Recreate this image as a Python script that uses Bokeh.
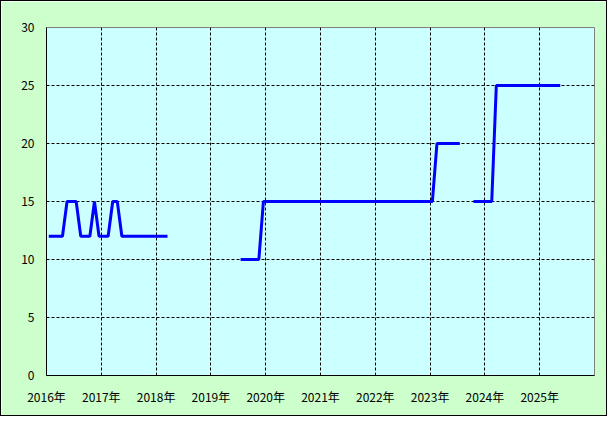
import math
from bokeh.plotting import figure
from bokeh.models import ColumnDataSource, FixedTicker, Range1d
from bokeh.embed import file_html
from bokeh.resources import INLINE

# Monthly values from 2016-01 to 2025-05 (None = no data)
start_year = 2016
values = [
    # 2016
    12, 12, 12, 12, 15, 15, 15, 12, 12, 12, 15, 12,
    # 2017
    12, 12, 15, 15, 12, 12, 12, 12, 12, 12, 12, 12,
    # 2018
    12, 12, 12, None, None, None, None, None, None, None, None, None,
    # 2019
    None, None, None, None, None, None, 10, 10, 10, 10, 10, 15,
    # 2020
    15, 15, 15, 15, 15, 15, 15, 15, 15, 15, 15, 15,
    # 2021
    15, 15, 15, 15, 15, 15, 15, 15, 15, 15, 15, 15,
    # 2022
    15, 15, 15, 15, 15, 15, 15, 15, 15, 15, 15, 15,
    # 2023
    15, 20, 20, 20, 20, 20, 20, None, None, 15, 15, 15,
    # 2024
    15, 15, 25, 25, 25, 25, 25, 25, 25, 25, 25, 25,
    # 2025
    25, 25, 25, 25, 25,
]
year_ticks = [2016, 2017, 2018, 2019, 2020, 2021, 2022, 2023, 2024, 2025]
year_labels = [f"{y}年" for y in year_ticks]
y_ticks = [0, 5, 10, 15, 20, 25, 30]

xs = [start_year + (i + 0.5) / 12 for i in range(len(values))]
ys = [float("nan") if v is None else v for v in values]
src = ColumnDataSource(dict(x=xs, y=ys))

p = figure(width=607, height=416, output_backend="svg", toolbar_location=None,
           x_range=Range1d(2016, 2026), y_range=Range1d(0, 30),
           min_border_left=45, min_border_right=14, min_border_top=26, min_border_bottom=42)
p.background_fill_color = "#CCFFFF"
p.border_fill_color = "#CCFFCC"
p.outline_line_color = "#808080"
p.outline_line_width = 1
p.styles = {"border": "1px solid black", "box-sizing": "border-box"}

p.line("x", "y", source=src, line_color="#0000FF", line_width=3)

font = "Noto Sans CJK JP"
for ax in (p.xaxis[0], p.yaxis[0]):
    ax.axis_line_color = "black"
    ax.axis_line_width = 1
    ax.major_tick_line_color = None
    ax.minor_tick_line_color = None
    ax.major_tick_out = 0
    ax.major_tick_in = 0
    ax.major_label_text_font = font
    ax.major_label_text_font_size = "12px"
    ax.major_label_text_color = "black"
    ax.major_label_standoff = 12

p.xaxis.ticker = FixedTicker(ticks=year_ticks)
p.xaxis.major_label_overrides = {t: l for t, l in zip(year_ticks, year_labels)}
p.yaxis.ticker = FixedTicker(ticks=y_ticks)

for g in (p.xgrid[0], p.ygrid[0]):
    g.grid_line_color = "black"
    g.grid_line_dash = "3 2"
    g.grid_line_width = 1

open("out.html", "w").write(file_html(p, INLINE))
